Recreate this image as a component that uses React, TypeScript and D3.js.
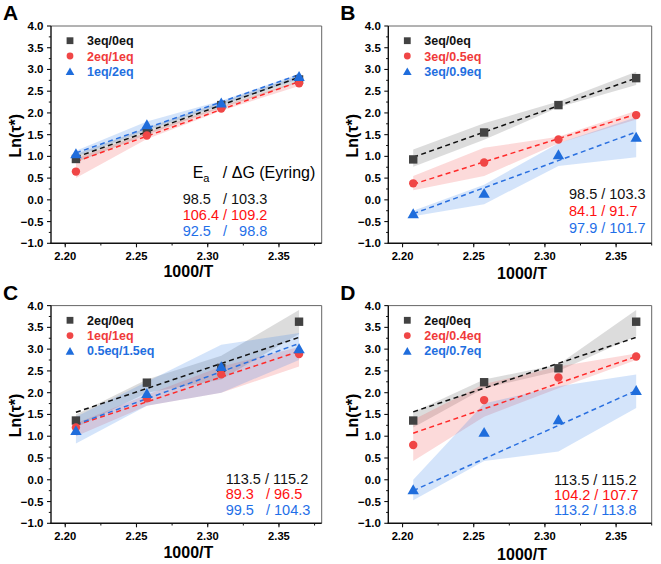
import React from "react";
import * as d3 from "d3";

// ---------- data ----------
const xVals = [2.2075, 2.2573, 2.3095, 2.3641];
const xTicks = [2.2, 2.25, 2.3, 2.35];
const xMinorTicks = [2.2, 2.225, 2.25, 2.275, 2.3, 2.325, 2.35, 2.375];
const yTicks = [-1.0, -0.5, 0.0, 0.5, 1.0, 1.5, 2.0, 2.5, 3.0, 3.5, 4.0];
const yMinorTicks = [-0.75, -0.25, 0.25, 0.75, 1.25, 1.75, 2.25, 2.75, 3.25, 3.75];

// Panel A
const aNames = ["3eq/0eq", "2eq/1eq", "1eq/2eq"];
const aBlack = [0.94, 1.57, 2.18, 2.77];
const aRed = [0.65, 1.48, 2.1, 2.68];
const aBlue = [1.07, 1.74, 2.24, 2.85];
const aBlackBand = [[0.86, 1.05], [1.5, 1.66], [2.12, 2.25], [2.7, 2.86]];
const aRedBand = [[0.5, 0.95], [1.4, 1.55], [2.05, 2.15], [2.62, 2.73]];
const aBlueBand = [[1.0, 1.13], [1.6, 1.8], [2.18, 2.28], [2.78, 2.9]];
const aFit = [[0.98, 2.82], [0.88, 2.72], [1.08, 2.88]];
const aEnergy = ["98.5   / 103.3", "106.4 / 109.2", "92.5   /   98.8"];

// Panel B
const bNames = ["3eq/0eq", "3eq/0.5eq", "3eq/0.9eq"];
const bBlack = [0.93, 1.55, 2.18, 2.8];
const bRed = [0.38, 0.86, 1.39, 1.95];
const bBlue = [-0.31, 0.16, 1.05, 1.45];
const bBlackBand = [[0.76, 1.16], [1.38, 1.76], [2.13, 2.26], [2.64, 2.95]];
const bRedBand = [[0.22, 0.55], [0.55, 1.2], [1.3, 1.45], [1.85, 2.05]];
const bBlueBand = [[-0.38, -0.25], [-0.1, 0.35], [0.78, 1.3], [0.98, 1.9]];
const bFit = [[0.98, 2.8], [0.36, 1.97], [-0.32, 1.56]];
const bEnergy = ["98.5 / 103.3", "84.1 / 91.7", "97.9 / 101.7"];

// Panel C
const cNames = ["2eq/0eq", "1eq/1eq", "0.5eq/1.5eq"];
const cBlack = [1.36, 2.23, 2.57, 3.63];
const cRed = [1.2, 1.87, 2.42, 2.89];
const cBlue = [1.14, 1.99, 2.61, 3.02];
const cBlackBand = [[1.2, 1.5], [2.0, 2.3], [2.3, 2.85], [3.35, 3.9]];
const cRedBand = [[1.0, 1.3], [1.7, 1.95], [2.0, 2.6], [2.6, 3.05]];
const cBlueBand = [[0.83, 1.45], [1.7, 2.25], [2.0, 3.1], [2.75, 3.37]];
const cFit = [[1.55, 3.27], [1.25, 2.95], [1.27, 3.13]];
const cEnergy = ["113.5 / 115.2", "89.3   / 96.5", "99.5   / 104.3"];

// Panel D
const dNames = ["2eq/0eq", "2eq/0.4eq", "2eq/0.7eq"];
const dBlack = [1.36, 2.24, 2.56, 3.63];
const dRed = [0.8, 1.83, 2.35, 2.83];
const dBlue = [-0.22, 1.1, 1.39, 2.06];
const dBlackBand = [[1.2, 1.55], [2.1, 2.3], [2.5, 2.65], [3.3, 3.9]];
const dRedBand = [[0.43, 1.38], [1.45, 2.2], [2.1, 2.6], [2.75, 2.9]];
const dBlueBand = [[-0.47, 0.0], [0.43, 1.75], [0.65, 2.15], [1.65, 2.42]];
const dFit = [[1.56, 3.27], [1.07, 2.83], [-0.25, 2.05]];
const dEnergy = ["113.5 / 115.2", "104.2 / 107.7", "113.2 / 113.8"];

const panelLetters = ["A", "B", "C", "D"];

// ---------- styles ----------
const FONT = "Arial, 'Liberation Sans', Helvetica, sans-serif";
const markerFill = ["#424242", "#f04646", "#1f6ddc"];
const lineColor = ["#111111", "#ff2a2a", "#2a70e0"];
const legendColor = ["#111111", "#f03a3a", "#1f6fe0"];
const energyColor = ["#111111", "#ff1010", "#1f6fe8"];
const bandFill = ["rgba(120,120,120,0.26)", "rgba(240,70,70,0.2)", "rgba(60,130,230,0.22)"];

type PanelDef = {
  letter: string;
  names: string[];
  series: number[][];
  bands: number[][][];
  fits: number[][];
  energy: string[];
  left: number;
  right: number;
  top: number;
  bottom: number;
  xDomain: [number, number];
  energyX: number;
  energyY: number[];
  titleOffset: number;
  header?: boolean;
};

function Marker({ kind, cx, cy, s }: { kind: number; cx: number; cy: number; s: number }) {
  if (kind === 0) {
    return <rect x={cx - s / 2} y={cy - s / 2} width={s} height={s} fill={markerFill[0]} />;
  }
  if (kind === 1) {
    return <circle cx={cx} cy={cy} r={s / 2} fill={markerFill[1]} />;
  }
  const w = s * 1.2;
  const h = s * 1.05;
  const p = `${cx - w / 2},${cy + h / 2} ${cx + w / 2},${cy + h / 2} ${cx},${cy - h / 2}`;
  return <polygon points={p} fill={markerFill[2]} />;
}

function Panel({ p }: { p: PanelDef }) {
  const x = d3.scaleLinear().domain(p.xDomain).range([p.left, p.right]);
  const y = d3.scaleLinear().domain([-1, 4]).range([p.bottom, p.top]);
  const area = d3
    .area<number[]>()
    .x((_, i) => x(xVals[i]))
    .y0((d) => y(d[0]))
    .y1((d) => y(d[1]));
  const line = d3
    .line<number[]>()
    .x((d) => x(d[0]))
    .y((d) => y(d[1]));
  const midX = (p.left + p.right) / 2;
  const midY = (p.top + p.bottom) / 2;
  const legendMarkerX = p.left + 19;
  const legendTextX = p.left + 36;
  const legendY0 = p.top + 14.7;
  return (
    <g>
      <text x={p.left - 48} y={p.top - 6} fontFamily={FONT} fontWeight="bold" fontSize={21} fill="#000">
        {p.letter}
      </text>
      {/* bands */}
      {p.bands.map((b, k) => (
        <path key={"b" + k} d={area(b) || ""} fill={bandFill[k]} stroke="none" />
      ))}
      {/* fits */}
      {p.fits.map((f, k) => (
        <path
          key={"f" + k}
          d={line([[xVals[0], f[0]], [xVals[3], f[1]]]) || ""}
          stroke={lineColor[k]}
          strokeWidth={1.5}
          strokeDasharray="5,3.5"
          fill="none"
        />
      ))}
      {/* points */}
      {p.series.map((s, k) =>
        s.map((v, i) => <Marker key={"m" + k + "_" + i} kind={k} cx={x(xVals[i])} cy={y(v)} s={k === 2 ? 9.5 : 8.4} />)
      )}
      {/* frame */}
      <line x1={p.left} x2={p.right} y1={p.top} y2={p.top} stroke="#666" strokeWidth={1} />
      <line x1={p.right} x2={p.right} y1={p.top} y2={p.bottom} stroke="#666" strokeWidth={1} />
      <line x1={p.left} x2={p.left} y1={p.top} y2={p.bottom + 0.7} stroke="#111" strokeWidth={1.4} />
      <line x1={p.left - 0.7} x2={p.right} y1={p.bottom} y2={p.bottom} stroke="#111" strokeWidth={1.4} />
      {/* x ticks */}
      {xMinorTicks.map((t) => (
        <line key={"xm" + t} x1={x(t)} x2={x(t)} y1={p.bottom} y2={p.bottom + 2.2} stroke="#111" strokeWidth={1} />
      ))}
      {xTicks.map((t) => (
        <g key={"x" + t}>
          <line x1={x(t)} x2={x(t)} y1={p.bottom} y2={p.bottom + 4} stroke="#111" strokeWidth={1.1} />
          <text x={x(t)} y={p.bottom + 16.5} textAnchor="middle" fontFamily={FONT} fontWeight="bold" fontSize={11.2} fill="#000">
            {d3.format(".2f")(t)}
          </text>
        </g>
      ))}
      {/* y ticks */}
      {yMinorTicks.map((t) => (
        <line key={"ym" + t} x1={p.left} x2={p.left - 2.2} y1={y(t)} y2={y(t)} stroke="#111" strokeWidth={1} />
      ))}
      {yTicks.map((t) => (
        <g key={"y" + t}>
          <line x1={p.left} x2={p.left - 4} y1={y(t)} y2={y(t)} stroke="#111" strokeWidth={1.1} />
          <text x={p.left - 7.5} y={y(t) + 4} textAnchor="end" fontFamily={FONT} fontWeight="bold" fontSize={11.5} fill="#000">
            {d3.format(".1f")(t)}
          </text>
        </g>
      ))}
      {/* axis titles */}
      <text x={midX + 2} y={p.bottom + p.titleOffset} textAnchor="middle" fontFamily={FONT} fontWeight="bold" fontSize={16} fill="#000">
        1000/T
      </text>
      <text
        transform={`translate(${p.left - 30},${midY + 1}) rotate(-90)`}
        textAnchor="middle"
        fontFamily={FONT}
        fontWeight="bold"
        fontSize={16}
        fill="#000"
      >
        Ln(τ*)
      </text>
      {/* legend */}
      {p.names.map((n, k) => (
        <g key={"l" + k}>
          <Marker kind={k} cx={legendMarkerX} cy={legendY0 + k * 15.3} s={k === 2 ? 7.2 : 6.8} />
          <text
            x={legendTextX}
            y={legendY0 + k * 15.3 + 4.5}
            fontFamily={FONT}
            fontWeight="bold"
            fontSize={12.5}
            fill={legendColor[k]}
          >
            {n}
          </text>
        </g>
      ))}
      {/* energy header */}
      {p.header && (
        <text x={p.energyX + 10} y={p.energyY[0] - 21} fontFamily={FONT} fontSize={16} fill="#000" style={{ whiteSpace: "pre" }}>
          E<tspan fontSize={11} dy={4}>a</tspan>
          <tspan dy={-4}>{"   / ΔG (Eyring)"}</tspan>
        </text>
      )}
      {p.energy.map((t, k) => (
        <text
          key={"e" + k}
          x={p.energyX}
          y={p.energyY[k] + 5}
          fontFamily={FONT}
          fontSize={14.5}
          fill={energyColor[k]}
          style={{ whiteSpace: "pre" }}
        >
          {t}
        </text>
      ))}
    </g>
  );
}

export default function App() {
  const panels: PanelDef[] = [
    {
      letter: panelLetters[0],
      names: aNames,
      series: [aBlack, aRed, aBlue],
      bands: [aBlackBand, aRedBand, aBlueBand],
      fits: aFit,
      energy: aEnergy,
      left: 51,
      right: 321.7,
      top: 26,
      bottom: 243.3,
      xDomain: [2.19, 2.38],
      energyX: 182.7,
      energyY: [199, 215, 230.5],
      titleOffset: 33.5,
      header: true,
    },
    {
      letter: panelLetters[1],
      names: bNames,
      series: [bBlack, bRed, bBlue],
      bands: [bBlackBand, bRedBand, bBlueBand],
      fits: bFit,
      energy: bEnergy,
      left: 388.3,
      right: 651.7,
      top: 26,
      bottom: 243.3,
      xDomain: [2.19, 2.375],
      energyX: 569,
      energyY: [194, 210.7, 227.7],
      titleOffset: 36,
    },
    {
      letter: panelLetters[2],
      names: cNames,
      series: [cBlack, cRed, cBlue],
      bands: [cBlackBand, cRedBand, cBlueBand],
      fits: cFit,
      energy: cEnergy,
      left: 51,
      right: 321.7,
      top: 305.6,
      bottom: 523.3,
      xDomain: [2.19, 2.38],
      energyX: 225.7,
      energyY: [479, 494, 510],
      titleOffset: 35,
    },
    {
      letter: panelLetters[3],
      names: dNames,
      series: [dBlack, dRed, dBlue],
      bands: [dBlackBand, dRedBand, dBlueBand],
      fits: dFit,
      energy: dEnergy,
      left: 388.3,
      right: 651.7,
      top: 305.6,
      bottom: 523.3,
      xDomain: [2.19, 2.375],
      energyX: 554,
      energyY: [480, 494.5, 510],
      titleOffset: 37,
    },
  ];
  return (
    <svg
      width={661}
      height={564}
      viewBox="0 0 661 564"
      style={{ position: "absolute", left: 0, top: 0, background: "#fff" }}
    >
      <rect x={0} y={0} width={661} height={564} fill="#fff" />
      {panels.map((p) => (
        <Panel key={p.letter} p={p} />
      ))}
    </svg>
  );
}
